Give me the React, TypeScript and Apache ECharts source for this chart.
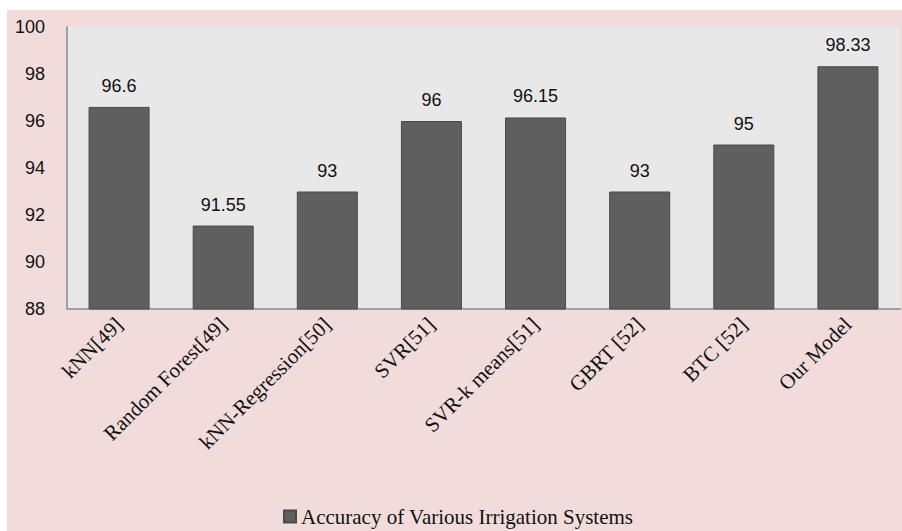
import React, { useEffect, useRef } from "react";
import * as echarts from "echarts";

const categories = [
  "kNN[49]",
  "Random Forest[49]",
  "kNN-Regression[50]",
  "SVR[51]",
  "SVR-k means[51]",
  "GBRT [52]",
  "BTC [52]",
  "Our Model",
];
const values = [96.6, 91.55, 93, 96, 96.15, 93, 95, 98.33];
const seriesName = "Accuracy of Various Irrigation Systems";
const yMin = 88;
const yMax = 100;
const yInterval = 2;

export default function App() {
  const ref = useRef<HTMLDivElement>(null);
  useEffect(() => {
    if (!ref.current) return;
    const chart = echarts.init(ref.current, undefined, { renderer: "svg" });
    chart.setOption({
      animation: false,
      backgroundColor: "#F2DCDB",
      grid: {
        left: 60,
        top: 17,
        right: 2,
        bottom: 222,
        show: true,
        backgroundColor: "#E8E8E8",
        borderWidth: 0,
      },
      legend: {
        data: [seriesName],
        left: 271,
        top: 491,
        icon: "rect",
        itemWidth: 12,
        itemHeight: 12,
        itemGap: 4,
        textStyle: {
          fontFamily: "Liberation Serif",
          fontSize: 21,
          color: "#111",
        },
      },
      xAxis: {
        type: "category",
        data: categories,
        axisLine: { show: true, lineStyle: { color: "#A0A0A0", width: 2 } },
        axisTick: { show: false },
        axisLabel: {
          rotate: 45,
          margin: 12,
          interval: 0,
          fontFamily: "Liberation Serif",
          fontSize: 21,
          color: "#111",
        },
      },
      yAxis: {
        type: "value",
        min: yMin,
        max: yMax,
        interval: yInterval,
        axisLine: { show: true, lineStyle: { color: "#A0A0A0", width: 2 } },
        axisTick: { show: false },
        splitLine: { show: false },
        axisLabel: {
          margin: 22,
          fontFamily: "Liberation Sans",
          fontSize: 18,
          color: "#111",
        },
      },
      series: [
        {
          name: seriesName,
          type: "bar",
          data: values,
          barWidth: "58.6%",
          itemStyle: {
            color: "#5F5F5F",
            borderColor: "#4A4A4A",
            borderWidth: 1,
          },
          label: {
            show: true,
            position: "top",
            distance: 12,
            fontFamily: "Liberation Sans",
            fontSize: 18,
            color: "#111",
          },
        },
      ],
    });
    return () => chart.dispose();
  }, []);
  return (
    <div
      style={{
        position: "absolute",
        left: 0,
        top: 0,
        width: 902,
        height: 531,
        background: "#fff",
      }}
    >
      <div
        ref={ref}
        style={{
          position: "absolute",
          left: 7,
          top: 10,
          width: 895,
          height: 521,
        }}
      />
    </div>
  );
}
